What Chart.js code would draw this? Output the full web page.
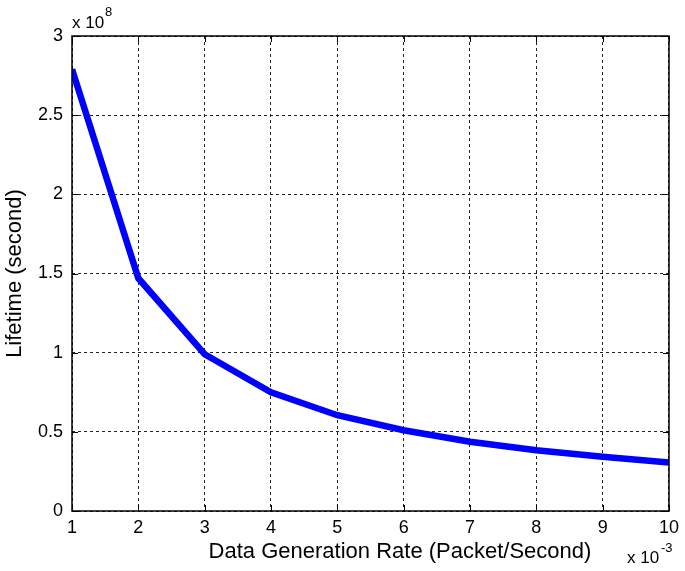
<!DOCTYPE html>
<html>
<head>
<meta charset="utf-8">
<script src="https://cdn.jsdelivr.net/npm/chart.js@4/dist/chart.umd.min.js"></script>
<style>
  html, body { margin: 0; padding: 0; background: #fff; }
  #wrap { width: 685px; height: 571px; }
</style>
</head>
<body>
<div id="wrap"><canvas id="c" width="685" height="571"></canvas></div>
<script>
// data rate (packet/second) and lifetime (second)
const rates = [0.001, 0.002, 0.003, 0.004, 0.005, 0.006, 0.007, 0.008, 0.009, 0.010];
const lifetimes = [2.79e8, 1.47e8, 0.99e8, 0.75e8, 0.605e8, 0.51e8, 0.437e8, 0.384e8, 0.342e8, 0.307e8];
const xTicks = [1, 2, 3, 4, 5, 6, 7, 8, 9, 10];   // x 10^-3
const yTicks = [0, 0.5, 1, 1.5, 2, 2.5, 3];       // x 10^8
const xTitle = 'Data Generation Rate (Packet/Second)';
const yTitle = 'Lifetime (second)';

const FONT = 'Liberation Sans, Arial, Helvetica, sans-serif';

// 画外框、内向刻度、x轴标题和指数标注 (matlab style)
const matlabFrame = {
    id: 'matlabFrame',
    afterDraw(chart) {
        const ctx = chart.ctx;
        const a = chart.chartArea;
        const xs = chart.scales.x, ys = chart.scales.y;
        ctx.save();
        ctx.strokeStyle = '#000';
        ctx.lineWidth = 1.5;
        ctx.strokeRect(a.left, a.top, a.right - a.left, a.bottom - a.top);

        ctx.lineWidth = 1;
        ctx.beginPath();
        xTicks.forEach(t => {
            const px = Math.round(xs.getPixelForValue(t / 1000)) + 0.5;
            ctx.moveTo(px, a.bottom); ctx.lineTo(px, a.bottom - 6);
            ctx.moveTo(px, a.top); ctx.lineTo(px, a.top + 6);
        });
        yTicks.forEach(t => {
            const py = Math.round(ys.getPixelForValue(t * 1e8)) + 0.5;
            ctx.moveTo(a.left, py); ctx.lineTo(a.left + 6, py);
            ctx.moveTo(a.right, py); ctx.lineTo(a.right - 6, py);
        });
        ctx.stroke();

        ctx.fillStyle = '#000';
        // x axis title (matlab puts it a bit right of centre here)
        ctx.textAlign = 'center';
        ctx.textBaseline = 'middle';
        ctx.font = '22px ' + FONT;
        ctx.fillText(xTitle, 400, 552);

        // exponent labels
        ctx.textBaseline = 'alphabetic';
        ctx.textAlign = 'left';
        ctx.font = '17px ' + FONT;
        ctx.fillText('x 10', a.left, a.top - 8);
        ctx.font = '13px ' + FONT;
        ctx.fillText('8', a.left + 33, a.top - 20);

        ctx.font = '17px ' + FONT;
        ctx.fillText('x 10', 627, 563);
        ctx.font = '13px ' + FONT;
        ctx.fillText('-3', 661, 552);
        ctx.restore();
    }
};

const ctx = document.getElementById('c').getContext('2d');
const chart = new Chart(ctx, {
    type: 'line',
    data: {
        datasets: [{
            data: rates.map((r, i) => ({ x: r, y: lifetimes[i] })),
            borderColor: '#0000ff',
            borderWidth: 6.5,
            pointRadius: 0,
            fill: false,
            tension: 0
        }]
    },
    options: {
        responsive: false,
        animation: false,
        layout: { padding: { top: 36, right: 12, left: 0, bottom: 0 } },
        plugins: {
            legend: { display: false },
            tooltip: { enabled: false }
        },
        scales: {
            x: {
                type: 'linear',
                min: 0.001,
                max: 0.010,
                afterFit: s => { s.height = 60; },
                afterBuildTicks: s => { s.ticks = xTicks.map(v => ({ value: v / 1000 })); },
                grid: {
                    color: '#222',
                    lineWidth: 1,
                    drawTicks: false
                },
                border: { display: false, dash: [3, 3] },
                ticks: {
                    color: '#000',
                    font: { family: FONT, size: 18 },
                    padding: 6,
                    maxRotation: 0,
                    callback: v => String(Math.round(v * 1000))
                },
                title: { display: false }
            },
            y: {
                min: 0,
                max: 3e8,
                afterFit: s => { s.width = 72; },
                afterBuildTicks: s => { s.ticks = yTicks.map(v => ({ value: v * 1e8 })); },
                grid: {
                    color: '#222',
                    lineWidth: 1,
                    drawTicks: false
                },
                border: { display: false, dash: [3, 3] },
                ticks: {
                    color: '#000',
                    font: { family: FONT, size: 18 },
                    padding: 9,
                    callback: v => String(Math.round(v / 1e7) / 10)
                },
                title: {
                    display: true,
                    text: yTitle,
                    color: '#000',
                    font: { family: FONT, size: 22 },
                    padding: { top: 2, bottom: 4 }
                }
            }
        }
    },
    plugins: [matlabFrame]
});
</script>
</body>
</html>
